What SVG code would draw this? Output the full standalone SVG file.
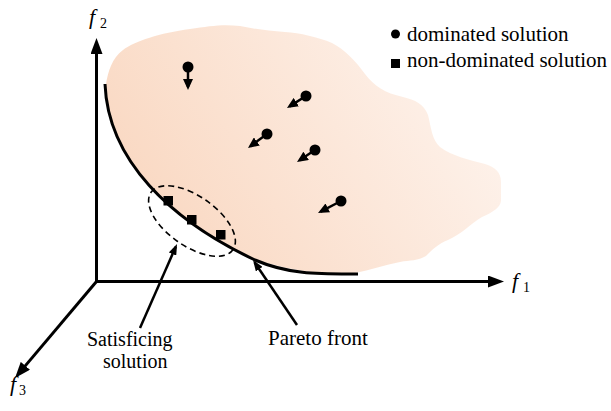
<svg xmlns="http://www.w3.org/2000/svg" width="611" height="411" viewBox="0 0 611 411">
<style>
.t{font-family:'Liberation Serif','Times New Roman',serif;fill:#000}
.lbl{font-size:21px}
.lbl2{font-size:20px}
.it{font-style:italic;font-size:22px}
.sub{font-size:14px}
.axis{stroke:#000;stroke-width:3;fill:none}
.arr{stroke:#000;stroke-width:2.5;fill:none}
</style>
<defs>
<linearGradient id="blobg" x1="120" y1="260" x2="470" y2="40" gradientUnits="userSpaceOnUse">
<stop offset="0" stop-color="#f9d5bd"/>
<stop offset="1" stop-color="#fef4ee"/>
</linearGradient>
<marker id="ah" markerUnits="userSpaceOnUse" markerWidth="16" markerHeight="12" viewBox="0 0 16 12" refX="10" refY="6" orient="auto">
<path d="M0,0 L16,6 L0,12 z" fill="#000"/>
</marker>
<marker id="sh" markerUnits="userSpaceOnUse" markerWidth="11" markerHeight="10" viewBox="0 0 11 10" refX="8" refY="5" orient="auto">
<path d="M0,0 L11,5 L0,10 z" fill="#000"/>
</marker>
<marker id="lh" markerUnits="userSpaceOnUse" markerWidth="11" markerHeight="8" viewBox="0 0 11 8" refX="8" refY="4" orient="auto">
<path d="M0,0 L11,4 L0,8 z" fill="#000"/>
</marker>
</defs>

<g id="region">
<path d="M106,84 C108,72 112,58 123,50 C135,41 160,33 190,29 C210,26 223,24 240,26 C255,29 268,31 285,32 C300,33 318,37 332,43 C345,50 355,60 365,74 C374,86 385,93 403,97 C415,100 424,104 428,115 C431,127 432,140 440,147 C452,156 470,160 485,164 C495,167 501,172 501,182 L501,201 C500,208 493,212 482,217 C470,224 462,234 448,240 C438,244 432,250 426,256 C418,261 410,260 400,262 C385,265 370,270 355,273 C345,274 335,274 320,273 C295,271 275,265 255,260 C170,220 108,160 106,84 z" fill="url(#blobg)"/>
</g>

<g id="connectors">
<line class="axis" x1="96.5" y1="283" x2="96.5" y2="44" marker-end="url(#ah)"/>
<line class="axis" x1="95" y1="281.5" x2="498" y2="281.5" marker-end="url(#ah)"/>
<line class="axis" x1="96.5" y1="281.5" x2="18.9" y2="373.4" marker-end="url(#ah)"/>
<line class="arr" x1="188" y1="67" x2="188" y2="87" marker-end="url(#sh)"/>
<line class="arr" x1="306" y1="96" x2="289.5" y2="106.4" marker-end="url(#sh)"/>
<line class="arr" x1="267" y1="134" x2="250.4" y2="146.2" marker-end="url(#sh)"/>
<line class="arr" x1="315" y1="150" x2="299.5" y2="160.3" marker-end="url(#sh)"/>
<line class="arr" x1="341" y1="201" x2="320.7" y2="211.6" marker-end="url(#sh)"/>
<line class="arr" x1="140" y1="328" x2="175.8" y2="246.7" marker-end="url(#lh)"/>
<line class="arr" x1="297" y1="325" x2="254.7" y2="262.5" marker-end="url(#lh)"/>
</g>

<g id="pareto-front">
<path d="M105,84 C108,160 170,220 255,260 C290,275 320,274 358,274" fill="none" stroke="#000" stroke-width="3"/>
</g>

<g id="satisficing-region">
<ellipse cx="192" cy="221" rx="50" ry="25" transform="rotate(35 192 221)" fill="none" stroke="#000" stroke-width="1.6" stroke-dasharray="6,4"/>
</g>

<g id="dominated">
<circle cx="188" cy="67" r="5.5"/>
<circle cx="306" cy="96" r="5.5"/>
<circle cx="267" cy="134" r="5.5"/>
<circle cx="315" cy="150" r="5.5"/>
<circle cx="341" cy="201" r="5.5"/>
</g>

<g id="non-dominated">
<rect x="163.5" y="196" width="9.5" height="9.5"/>
<rect x="187" y="215" width="9.5" height="9.5"/>
<rect x="216" y="230" width="9.5" height="9.5"/>
</g>

<g id="legend">
<circle cx="395.5" cy="34" r="4.5"/>
<text class="t lbl" x="407" y="41">dominated solution</text>
<rect x="391" y="59" width="9" height="9"/>
<text class="t lbl" x="407" y="67">non-dominated solution</text>
</g>

<g id="labels">
<text class="t it" x="89" y="24">f</text><text class="t sub" x="100" y="28">2</text>
<text class="t it" x="512" y="288">f</text><text class="t sub" x="523" y="292">1</text>
<text class="t it" x="10" y="391">f</text><text class="t sub" x="19" y="395">3</text>
<text class="t lbl2" x="87" y="346">Satisficing</text>
<text class="t lbl2" x="103" y="368">solution</text>
<text class="t lbl" x="268" y="345">Pareto front</text>
</g>
</svg>
